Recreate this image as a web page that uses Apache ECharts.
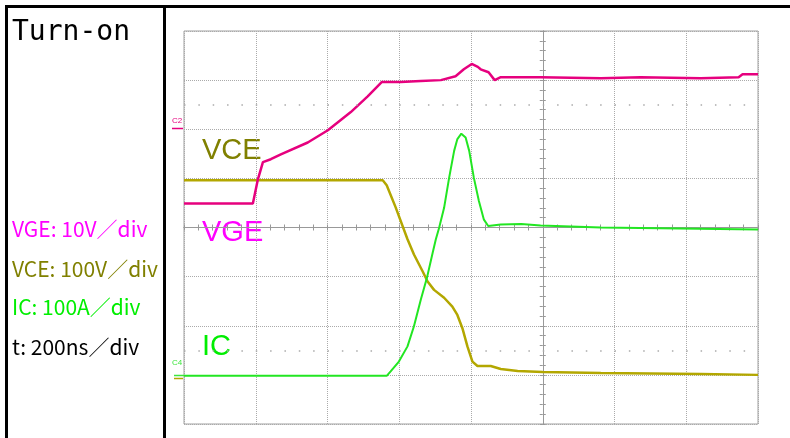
<!DOCTYPE html>
<html>
<head>
<meta charset="utf-8">
<script src="https://cdn.jsdelivr.net/npm/echarts@6/dist/echarts.min.js"></script>
<style>
  html, body { margin: 0; padding: 0; background: #fff; }
  #chart { width: 790px; height: 438px; }
</style>
</head>
<body>
<div id="chart"></div>
<script>
// time in ns (200ns/div), amplitude in screen divisions from centre
const vgeTime = [-1000, -808, -794, -780, -758, -730, -655, -599, -535, -488, -449, -396, -340, -284, -243, -220, -198, -181, -173, -151, -134, -117, -6, 162, 273, 440, 546, 557, 600];
const vgeDiv  = [0.49, 0.49, 0.98, 1.33, 1.39, 1.49, 1.73, 1.98, 2.35, 2.67, 2.96, 2.96, 2.98, 3.0, 3.08, 3.22, 3.33, 3.27, 3.22, 3.16, 3.0, 3.06, 3.06, 3.04, 3.06, 3.04, 3.06, 3.12, 3.12];

const vceTime = [-1000, -446, -435, -410, -377, -359, -335, -321, -303, -275, -252, -238, -224, -210, -196, -182, -145, -117, -70, 0, 162, 440, 600];
const vceDiv  = [0.96, 0.96, 0.86, 0.41, -0.24, -0.55, -0.89, -1.10, -1.27, -1.43, -1.61, -1.78, -2.05, -2.42, -2.73, -2.82, -2.82, -2.88, -2.92, -2.94, -2.96, -2.98, -3.0];

const icTime = [-1000, -435, -424, -401, -377, -359, -340, -323, -307, -298, -289, -275, -261, -247, -238, -227, -215, -205, -192, -178, -164, -152, -117, -60, -6, 162, 600];
const icDiv  = [-3.02, -3.02, -2.93, -2.73, -2.42, -2.01, -1.47, -1.03, -0.52, -0.24, -0.01, 0.40, 1.01, 1.56, 1.80, 1.91, 1.83, 1.56, 1.01, 0.54, 0.16, 0.03, 0.06, 0.07, 0.04, 0.0, -0.04];

const scaleLabels = ['VGE: 10V／div', 'VCE: 100V／div', 'IC: 100A／div', 't: 200ns／div'];
const scaleColors = ['#ff00ff', '#808000', '#00ee00', '#000000'];

const pair = (xs, ys) => xs.map((x, i) => [x, ys[i]]);

const chart = echarts.init(document.getElementById('chart'));

const gridLine = { show: true, lineStyle: { color: '#aaaaaa', type: [1, 1], width: 1 } };
const centreAxisX = (pos, split) => ({
  type: 'value', min: -1000, max: 600, interval: 200, position: pos,
  axisLine: { show: true, onZero: true, lineStyle: { color: '#999', width: 1 } },
  axisTick: { show: true, inside: true, length: 3, lineStyle: { color: '#999' } },
  minorTick: { show: true, splitNumber: 5, length: 3, lineStyle: { color: '#999' } },
  axisLabel: { show: false },
  splitLine: split ? gridLine : { show: false }
});
const centreAxisY = (pos, split) => ({
  type: 'value', min: -4, max: 4, interval: 1, position: pos,
  axisLine: { show: true, onZero: true, lineStyle: { color: '#999', width: 1 } },
  axisTick: { show: true, inside: true, length: 3, lineStyle: { color: '#999' } },
  minorTick: { show: true, splitNumber: 5, length: 3, lineStyle: { color: '#999' } },
  axisLabel: { show: false },
  splitLine: split ? gridLine : { show: false }
});

const labelFont = '"Noto Sans CJK JP", "Noto Sans", sans-serif';
const traceFont = '29px "Liberation Sans", Arial, sans-serif';

const graphic = [
  // frame
  { type: 'rect', shape: { x: 5, y: 5, width: 785, height: 3 }, style: { fill: '#000' }, silent: true },
  { type: 'rect', shape: { x: 5, y: 5, width: 3, height: 433 }, style: { fill: '#000' }, silent: true },
  { type: 'rect', shape: { x: 163, y: 5, width: 3, height: 433 }, style: { fill: '#000' }, silent: true },
  { type: 'text', left: 12, top: 19, style: { text: 'Turn-on', font: '28px "DejaVu Sans Mono", monospace', fill: '#000' } },
  // in-plot trace names
  { type: 'text', left: 202, top: 136, style: { text: 'VCE', font: traceFont, fill: '#808000' } },
  { type: 'text', left: 202, top: 218, style: { text: 'VGE', font: traceFont, fill: '#ff00ff' } },
  { type: 'text', left: 202, top: 332, style: { text: 'IC', font: traceFont, fill: '#00ee00' } },
  // channel markers
  { type: 'text', left: 172, top: 117, style: { text: 'C2', font: '8px "Liberation Sans", sans-serif', fill: '#e6007e' } },
  { type: 'line', shape: { x1: 172, y1: 128.5, x2: 183, y2: 128.5 }, style: { stroke: '#e6007e', lineWidth: 1.5 } },
  { type: 'text', left: 172, top: 359, style: { text: 'C4', font: '8px "Liberation Sans", sans-serif', fill: '#3ee63e' } },
  { type: 'line', shape: { x1: 174, y1: 375.5, x2: 184, y2: 375.5 }, style: { stroke: '#3ee63e', lineWidth: 1.5 } },
  { type: 'line', shape: { x1: 174, y1: 378.5, x2: 183, y2: 378.5 }, style: { stroke: '#b3a700', lineWidth: 1.5 } }
];
const labelTops = [219, 259, 297, 337];
scaleLabels.forEach((t, i) => {
  graphic.push({ type: 'text', left: 12, top: labelTops[i], style: { text: t, font: '21px ' + labelFont, fill: scaleColors[i] } });
});

chart.setOption({
  animation: false,
  backgroundColor: '#fff',
  grid: { left: 184, top: 31, width: 574, height: 393, show: true, borderColor: '#a0a0a0', borderWidth: 1, backgroundColor: 'transparent' },
  xAxis: [centreAxisX('bottom', true), centreAxisX('top', false)],
  yAxis: [centreAxisY('left', true), centreAxisY('right', false)],
  graphic: graphic,
  series: [
    {
      name: 'VCE', type: 'line', data: pair(vceTime, vceDiv), showSymbol: false,
      lineStyle: { color: '#b3a700', width: 2.5 },
      markLine: {
        silent: true, symbol: 'none', label: { show: false },
        lineStyle: { color: '#aaa', type: [1.5, 12.85], width: 1.5 },
        data: [{ yAxis: 2.5 }, { yAxis: -2.5 }]
      }
    },
    { name: 'VGE', type: 'line', data: pair(vgeTime, vgeDiv), showSymbol: false, lineStyle: { color: '#e6007e', width: 2.5 } },
    { name: 'IC', type: 'line', data: pair(icTime, icDiv), showSymbol: false, lineStyle: { color: '#22e622', width: 2 } }
  ]
});
</script>
</body>
</html>
